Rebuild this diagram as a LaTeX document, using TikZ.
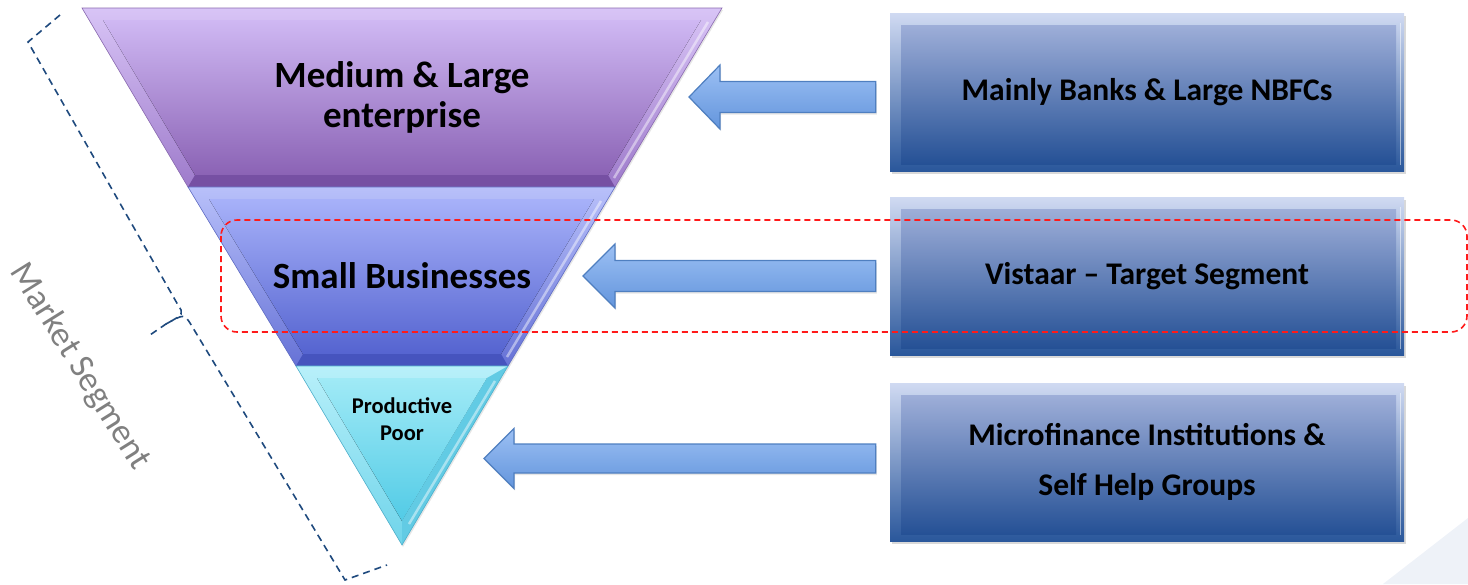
\documentclass[tikz,border=0pt]{standalone}
\usepackage{fontspec}
\setmainfont{Carlito}
\usetikzlibrary{calc,shadows}
\definecolor{fAbevT}{HTML}{D8C4F6}
\definecolor{fAbevB}{HTML}{9E7BCB}
\definecolor{fAtop}{HTML}{CFB8F3}
\definecolor{fAbot}{HTML}{8B63B5}
\definecolor{fAdark}{HTML}{7650A3}
\definecolor{fAline}{HTML}{8A6AB0}
\definecolor{fBbevT}{HTML}{B8C0FA}
\definecolor{fBbevB}{HTML}{6672D6}
\definecolor{fBtop}{HTML}{A7B1F9}
\definecolor{fBbot}{HTML}{5564D0}
\definecolor{fBdark}{HTML}{4654BE}
\definecolor{fBline}{HTML}{5F6CC4}
\definecolor{fCbevT}{HTML}{B8F0FA}
\definecolor{fCbevB}{HTML}{6FD4EA}
\definecolor{fCtop}{HTML}{A0EAF6}
\definecolor{fCbot}{HTML}{52CBE6}
\definecolor{fCdark}{HTML}{62CBE4}
\definecolor{fCline}{HTML}{4FB0CC}
\definecolor{arrT}{HTML}{9CC0F4}
\definecolor{arrB}{HTML}{6395DC}
\definecolor{arrL}{HTML}{4F7FC0}
\definecolor{bxbevT}{HTML}{D0DAF2}
\definecolor{bxbevB}{HTML}{2A579B}
\definecolor{bxT}{HTML}{A8B6DE}
\definecolor{bxM}{HTML}{7287BC}
\definecolor{bxB}{HTML}{1F4C92}
\definecolor{brk}{HTML}{1F4A7E}
\definecolor{redd}{HTML}{FF1A1A}
\definecolor{msgray}{HTML}{808080}
\definecolor{faint}{HTML}{EEF2F8}
\newcommand\blockarrow[5]{%
  \path[blockarr] let \p1=(#1),\p2=(#2) in
    (\x1,\y1+#4) -- (\x2+#3,\y1+#4) -- (\x2+#3,\y1+#5) -- (\x2,\y1)
    -- (\x2+#3,\y1-#5) -- (\x2+#3,\y1-#4) -- (\x1,\y1-#4) -- cycle;}
\begin{document}
\begin{tikzpicture}[x=1pt,y=-1pt,
  ftext/.style={align=center,text=black,inner sep=0pt,
    font=\bfseries\fontsize{37}{40}\selectfont},
  blockarr/.style={draw=arrL,line width=1.2pt,top color=arrT,bottom color=arrB,
    drop shadow={opacity=0.2,shadow xshift=1pt,shadow yshift=-2pt}},
  boxnode/.style={minimum width=514pt,minimum height=158pt,inner sep=0pt,
    top color=bxbevT,bottom color=bxbevB,align=center,text=black,
    font=\bfseries\fontsize{31.5}{50}\selectfont,
    drop shadow={opacity=0.3,shadow xshift=1.5pt,shadow yshift=-3pt},
    path picture={
      \fill[top color=bxT,middle color=bxM,bottom color=bxB]
        ($(path picture bounding box.north west)+(11,12)$) rectangle
        ($(path picture bounding box.south east)+(-8,-7)$);
      \draw[white,opacity=0.5,line width=1pt]
        ($(path picture bounding box.north east)+(-4,10)$) --
        ($(path picture bounding box.south east)+(-4,-6)$);
    }},
  redbox/.style={draw=redd,line width=1.6pt,dash pattern=on 6pt off 4pt,rounded corners=16pt},
  bracket/.style={draw=brk,line width=1.6pt,dash pattern=on 7pt off 5pt},
  mstext/.style={text=msgray,font=\fontsize{35}{40}\selectfont,inner sep=0pt}]
\path[use as bounding box] (0,0) rectangle (1468,584);
\clip (0,0) rectangle (1468,584);
\fill[faint] (1383,584) -- (1468,518) -- (1468,584) -- cycle;
% funnel top
\path[top color=fAbevT,bottom color=fAbevB,drop shadow={opacity=0.2,shadow xshift=1pt,shadow yshift=-2pt}]
  (82,8) -- (722,8) -- (615,187) -- (188,187) -- cycle;
\fill[top color=fAtop,bottom color=fAbot] (103,20) -- (701,20) -- (608,175) -- (195,175) -- cycle;
\fill[fAdark] (188,187) -- (615,187) -- (608,175) -- (195,175) -- cycle;
\draw[white,opacity=0.45,line width=2.5pt] (708,22) -- (614,178);
\draw[fAline,line width=0.6pt] (82,8) -- (722,8) -- (615,187) -- (188,187) -- cycle;
% funnel middle
\path[top color=fBbevT,bottom color=fBbevB,drop shadow={opacity=0.2,shadow xshift=1pt,shadow yshift=-2pt}]
  (188,187) -- (615,187) -- (508,366) -- (296,366) -- cycle;
\fill[top color=fBtop,bottom color=fBbot] (209,199) -- (594,199) -- (501,354) -- (303,354) -- cycle;
\fill[fBdark] (296,366) -- (508,366) -- (501,354) -- (303,354) -- cycle;
\draw[white,opacity=0.45,line width=2.5pt] (601,201) -- (507,357);
\draw[fBline,line width=0.6pt] (188,187) -- (615,187) -- (508,366) -- (296,366) -- cycle;
% funnel bottom
\path[top color=fCbevT,bottom color=fCbevB,drop shadow={opacity=0.2,shadow xshift=1pt,shadow yshift=-2pt}]
  (296,366) -- (508,366) -- (402,545) -- cycle;
\fill[top color=fCtop,bottom color=fCbot] (317,378) -- (487,378) -- (402,521) -- cycle;
\fill[fCdark] (487,378) -- (508,366) -- (402,545) -- (402,521) -- cycle;
\draw[white,opacity=0.45,line width=2.5pt] (495,381) -- (409,524);
\draw[fCline,line width=0.6pt] (296,366) -- (508,366) -- (402,545) -- cycle;
% funnel labels
\node[ftext] (f1) at (402,97) {Medium \& Large\\enterprise};
\node[ftext] (f2) at (402,276) {Small Businesses};
\node[ftext,font=\bfseries\fontsize{22.5}{27}\selectfont] (f3) at (402,419) {Productive\\Poor};
% boxes
\node[boxnode] (b1) at (1147,92) {Mainly Banks \& Large NBFCs};
\node[boxnode] (b2) at (1147,276) {Vistaar – Target Segment};
\node[boxnode] (b3) at (1147,462) {Microfinance Institutions \&\\Self Help Groups};
% arrows
\coordinate (a1t) at ($(b1.west)+(-14,5)$);
\coordinate (a1h) at (689,97);
\coordinate (a2t) at ($(b2.west)+(-14,0)$);
\coordinate (a2h) at (583,276);
\coordinate (a3t) at ($(b3.west)+(-14,-3.5)$);
\coordinate (a3h) at (484,458.5);
\blockarrow{a1t}{a1h}{31pt}{15.5pt}{32pt}
\blockarrow{a2t}{a2h}{32pt}{15.5pt}{32pt}
\blockarrow{a3t}{a3h}{30pt}{14.5pt}{30pt}
% target segment highlight
\draw[redbox] (221,220) rectangle (1467,332);
% market segment bracket
\coordinate (bk1) at (60,15);
\coordinate (bk2) at (28,42);
\coordinate (bk3) at (178,305);
\coordinate (bktip) at (147,337);
\coordinate (bk4) at (190,323);
\coordinate (bk5) at (345,580);
\coordinate (bk6) at (387,565);
\draw[bracket] (bk1) -- (bk2) -- (bk3) .. controls (184,314) .. (166,324) -- (bktip);
\draw[bracket] (166,324) .. controls (184,314) .. (bk4) -- (bk5) -- (bk6);
\node[mstext,rotate=-58] (ms) at (80,367) {Market Segment};
\end{tikzpicture}
\end{document}
